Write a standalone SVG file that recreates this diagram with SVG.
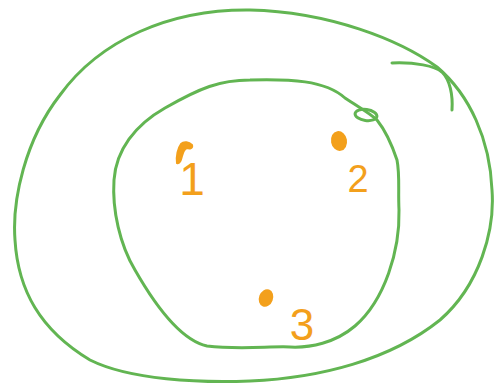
<svg xmlns="http://www.w3.org/2000/svg" width="495" height="386" viewBox="0 0 495 386">
<style>
.g{fill:none;stroke:#62b552;stroke-width:3;stroke-linecap:round;stroke-linejoin:round}
.o{fill:none;stroke:#f3a01c;stroke-width:4;stroke-linecap:round;stroke-linejoin:round}
.d{fill:#f3a01c;stroke:#f3a01c;stroke-width:2}
.t{fill:#f3a01c;font-family:"Liberation Sans",Arial,sans-serif;text-anchor:middle}
</style>
<rect width="495" height="386" fill="#ffffff"/>
<g id="outer">
<path class="g" d="M437,67 C400,40 330,12 250,10 C170,9 100,40 60,95 C25,140 12,200 15,240 C18,290 40,330 90,360 C130,380 200,383 250,381 C320,378 390,360 440,320 C480,285 495,230 492,190 C490,140 470,95 437,67 Z"/>
<path class="g" d="M392,63 C415,62 435,66 442,72 C450,80 453,95 452,110"/>
</g>
<g id="inner">
<path class="g" d="M250,80 C290,79 325,80 345,98 C360,108 370,113 377,120 C385,130 392,145 397,160 C400,175 398,190 399,210 C400,250 385,300 355,326 C335,343 310,348 290,347 C270,346 240,350 207,346 C180,340 155,305 135,270 C120,245 112,210 114,180 C116,150 135,125 165,108 C200,88 220,80 250,80 Z"/>
<ellipse class="g" cx="366" cy="115" rx="11" ry="5.5" transform="rotate(8 366 115)"/>
</g>
<g id="p1">
<path class="d" d="M177,163 C176,156 178,148 181,144 C184,141 189,142 192,145 C193,148 190,149 187,148 C184,149 183,152 182,156 C181,160 180,164 177,163 Z"/>
<text class="t" x="192" y="195" font-size="46">1</text>
</g>
<g id="p2">
<ellipse class="d" cx="339" cy="141" rx="7" ry="9" transform="rotate(-10 339 141)"/>
<text class="t" x="358" y="192" font-size="38">2</text>
</g>
<g id="p3">
<ellipse class="d" cx="266" cy="298" rx="6" ry="8" transform="rotate(20 266 298)"/>
<text class="t" x="302" y="340" font-size="44">3</text>
</g>
</svg>
